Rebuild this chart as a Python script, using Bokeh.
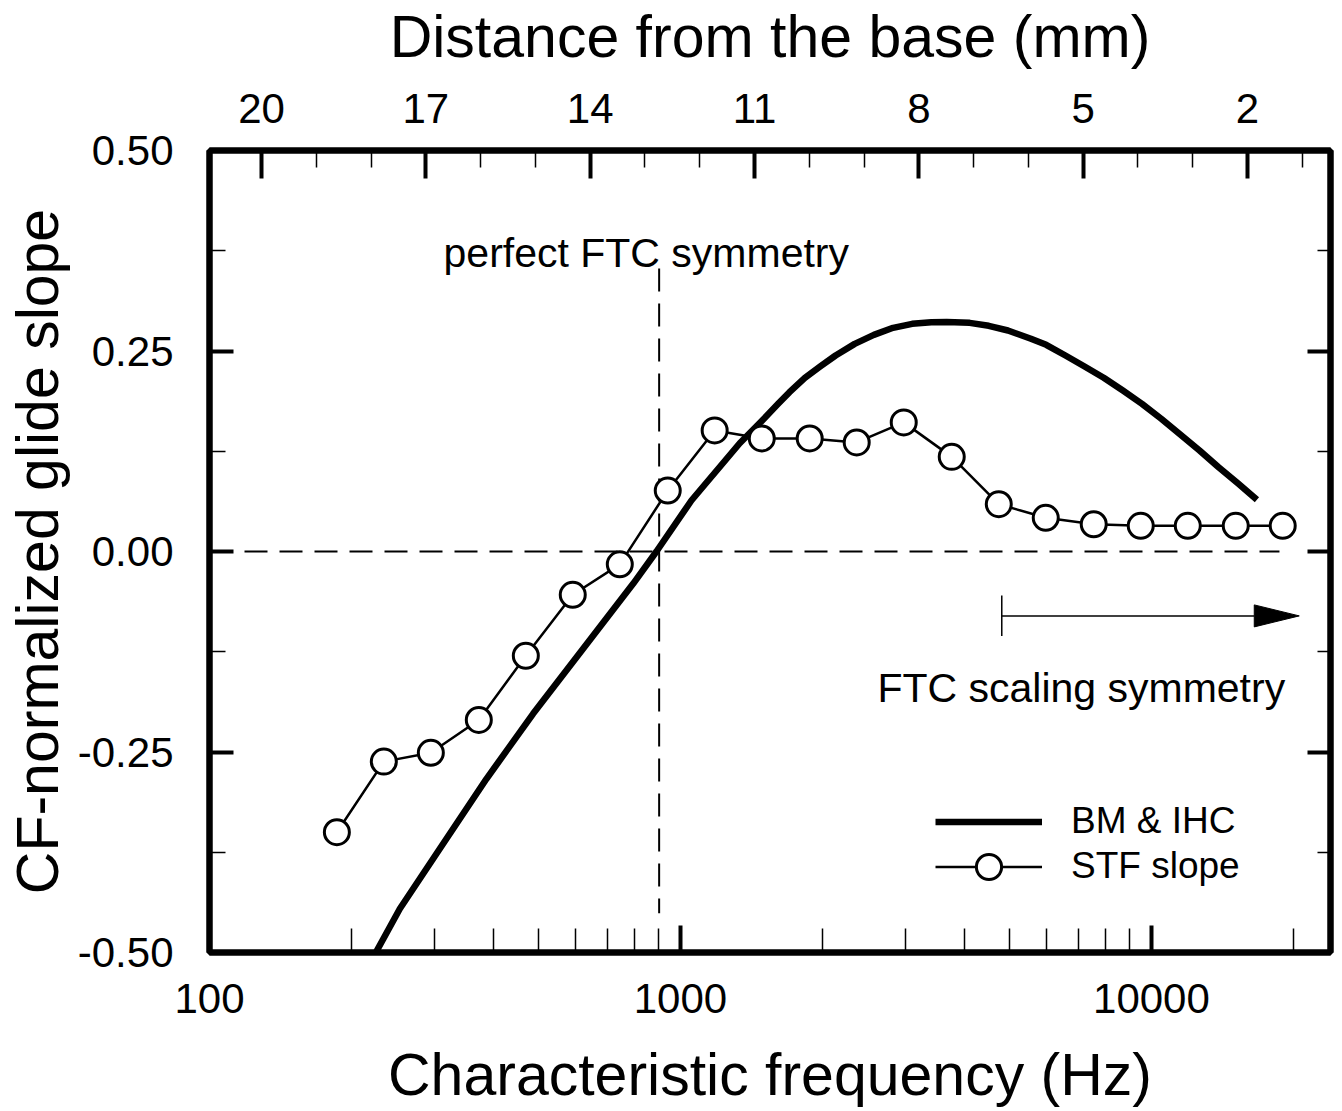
import numpy as np
from bokeh.plotting import figure
from bokeh.models import (Range1d, LinearScale, LinearAxis, FixedTicker, PrintfTickFormatter,
                          CustomJSTickFormatter, Legend, LegendItem, Label, ColumnDataSource)
from bokeh.embed import file_html
from bokeh.resources import INLINE

FONT = "Liberation Sans"

# ---- data ----
bm_freq = [225.5, 253.6, 308.3, 387.4, 486.4, 621.2, 793.2, 889.2, 1055, 1336,
           1468, 1612, 1704, 1837, 1981, 2135, 2344, 2574, 2828, 3104, 3409, 3675,
           4112, 4514, 4958, 5548, 5978, 6567, 7211, 7919, 8697, 9550, 10490,
           11514, 12651, 13887, 15257, 16749]
bm_slope = [-0.500, -0.4455, -0.3707, -0.2834, -0.2024, -0.1213, -0.0403, 0.000, 0.0636, 0.135,
            0.1592, 0.1841, 0.1987, 0.2166, 0.2307, 0.2444, 0.2589, 0.2701, 0.2789, 0.2839, 0.2859, 0.2863,
            0.2851, 0.2814, 0.2756, 0.2652, 0.2577, 0.2444, 0.2307, 0.2166, 0.2007, 0.1841, 0.1655,
            0.1459, 0.1259, 0.1051, 0.0851, 0.0645]

stf_freq = [186.4, 234.5, 295.1, 373.1, 469.5, 590.6, 743.3, 939.7, 1182, 1488, 1881,
            2367, 2979, 3767, 4741, 5965, 7542, 9491, 11945, 15101, 19000]
stf_slope = [-0.350, -0.262, -0.251, -0.210, -0.130, -0.054, -0.016, 0.076, 0.151, 0.141, 0.141,
             0.136, 0.161, 0.118, 0.059, 0.042, 0.034, 0.032, 0.032, 0.032, 0.032]

freq_ticks = [100, 1000, 10000]
freq_minor = [200, 300, 400, 500, 600, 700, 800, 900,
              2000, 3000, 4000, 5000, 6000, 7000, 8000, 9000, 20000]
slope_ticks = [-0.5, -0.25, 0.0, 0.25, 0.5]
slope_minor = [-0.375, -0.125, 0.125, 0.375]
dist_ticks = [20, 17, 14, 11, 8, 5, 2]
dist_minor = [19, 18, 16, 15, 13, 12, 10, 9, 7, 6, 4, 3, 1]

X_START, X_END = 100, 24000
Y_START, Y_END = -0.5, 0.5
DIST_START, DIST_END = 20.95, 0.485

# guide / annotation positions (data units)
ZERO_LINE_X = [100, 18700]
SYM_FREQ = 901
SYM_LINE_Y = [0.353, -0.451]
SYM_TEXT = (846, 0.3716)
ARROW_START_HZ = 4811
ARROW_TIP_HZ = 20600
ARROW_Y = -0.0803
TEE_Y = [-0.0549, -0.1054]
SCALE_TEXT = (7096, -0.1696)

# ---- layout ----
W, H = 1342, 1111
ML, MR, MT, MB = 209, 12, 150, 159
FRAME_W = W - ML - MR
FRAME_H = H - MT - MB

p = figure(width=W, height=H, x_axis_type="log",
           x_range=Range1d(X_START, X_END), y_range=Range1d(Y_START, Y_END),
           output_backend="svg", toolbar_location=None,
           min_border_left=ML, min_border_right=MR, min_border_top=MT, min_border_bottom=MB)
p.grid.visible = False
p.outline_line_color = "black"
p.outline_line_width = 6
p.background_fill_color = "white"
p.border_fill_color = "white"

p.extra_x_ranges = {"dist": Range1d(DIST_START, DIST_END)}
p.extra_x_scales = {"dist": LinearScale()}

bottom = p.below[0]
left = p.left[0]
top = LinearAxis(x_range_name="dist")
right = LinearAxis()
p.add_layout(top, "above")
p.add_layout(right, "right")

for ax in (bottom, left, top, right):
    ax.axis_line_color = "black"
    ax.axis_line_width = 6
    ax.major_tick_out = 0
    ax.minor_tick_out = 0
    ax.major_tick_line_color = "black"
    ax.minor_tick_line_color = "black"
    ax.major_tick_line_width = 4
    ax.minor_tick_line_width = 1.5
    ax.major_label_text_font = FONT
    ax.major_label_text_font_size = "42px"
    ax.major_label_text_color = "black"
    ax.axis_label_text_font = FONT
    ax.axis_label_text_font_size = "59px"
    ax.axis_label_text_font_style = "normal"
    ax.axis_label_text_color = "black"

bottom.ticker = FixedTicker(ticks=freq_ticks, minor_ticks=freq_minor)
bottom.formatter = PrintfTickFormatter(format="%d")
bottom.major_tick_in = 27
bottom.minor_tick_in = 24
bottom.major_label_standoff = 31
bottom.axis_label = "Characteristic frequency (Hz)"
bottom.axis_label_standoff = 26

left.ticker = FixedTicker(ticks=slope_ticks, minor_ticks=slope_minor)
left.formatter = PrintfTickFormatter(format="%.2f")
left.major_tick_in = 24
left.minor_tick_in = 16
left.major_label_standoff = 36
left.axis_label = "CF-normalized glide slope"
left.axis_label_standoff = 4

top.ticker = FixedTicker(ticks=dist_ticks, minor_ticks=dist_minor)
top.formatter = PrintfTickFormatter(format="%d")
top.major_tick_in = 28
top.minor_tick_in = 17
top.major_label_standoff = 28
top.axis_label = "Distance from the base (mm)"
top.axis_label_standoff = 21

right.ticker = FixedTicker(ticks=slope_ticks, minor_ticks=slope_minor)
right.formatter = CustomJSTickFormatter(code="return ''")
right.major_tick_in = 23
right.minor_tick_in = 13
right.major_label_standoff = 0

# ---- guide lines ----
p.segment(x0=[ZERO_LINE_X[0]], y0=[0], x1=[ZERO_LINE_X[1]], y1=[0],
          line_color="black", line_width=2, line_dash="23 12")
p.segment(x0=[SYM_FREQ], y0=[SYM_LINE_Y[0]], x1=[SYM_FREQ], y1=[SYM_LINE_Y[1]],
          line_color="black", line_width=2, line_dash="23 12")

# ---- data ----
bm_src = ColumnDataSource(dict(f=bm_freq, s=bm_slope))
stf_src = ColumnDataSource(dict(f=stf_freq, s=stf_slope))
bm_r = p.line("f", "s", source=bm_src, line_color="black", line_width=6.5, line_join="round")
stf_line = p.line("f", "s", source=stf_src, line_color="black", line_width=2.5)
stf_pts = p.scatter("f", "s", source=stf_src, marker="circle", size=25,
                    fill_color="white", line_color="black", line_width=3)

# ---- FTC scaling arrow ----
px_per_decade = FRAME_W / np.log10(X_END / X_START)
head_len_px, head_half_px = 45, 11
head_base = ARROW_TIP_HZ / 10 ** (head_len_px / px_per_decade)
head_half = head_half_px * (Y_END - Y_START) / FRAME_H
p.segment(x0=[ARROW_START_HZ], y0=[ARROW_Y], x1=[head_base], y1=[ARROW_Y],
          line_color="black", line_width=1.5)
p.segment(x0=[ARROW_START_HZ], y0=[TEE_Y[0]], x1=[ARROW_START_HZ], y1=[TEE_Y[1]],
          line_color="black", line_width=1.5)
p.patch([head_base, ARROW_TIP_HZ, head_base],
        [ARROW_Y + head_half, ARROW_Y, ARROW_Y - head_half],
        fill_color="black", line_color="black", line_width=1)

# ---- annotation texts ----
p.add_layout(Label(x=SYM_TEXT[0], y=SYM_TEXT[1], text="perfect FTC symmetry",
                   text_align="center", text_baseline="alphabetic",
                   text_font=FONT, text_font_size="41px", text_color="black"))
p.add_layout(Label(x=SCALE_TEXT[0], y=SCALE_TEXT[1], text="FTC scaling symmetry",
                   text_align="center", text_baseline="alphabetic",
                   text_font=FONT, text_font_size="41px", text_color="black"))

# ---- legends ----
def make_legend(label, renderers, loc):
    lg = Legend(items=[LegendItem(label=label, renderers=renderers)], location=loc,
                glyph_width=107, glyph_height=63, label_standoff=29, padding=0, margin=0,
                spacing=0, border_line_color=None, background_fill_alpha=0,
                label_text_font=FONT, label_text_font_size="37px", label_text_color="black")
    return lg

p.add_layout(make_legend("BM & IHC", [bm_r], (726, 99.5)))
p.add_layout(make_legend("STF slope", [stf_line, stf_pts], (726, 54.5)))

open("out.html", "w").write(file_html(p, INLINE))
